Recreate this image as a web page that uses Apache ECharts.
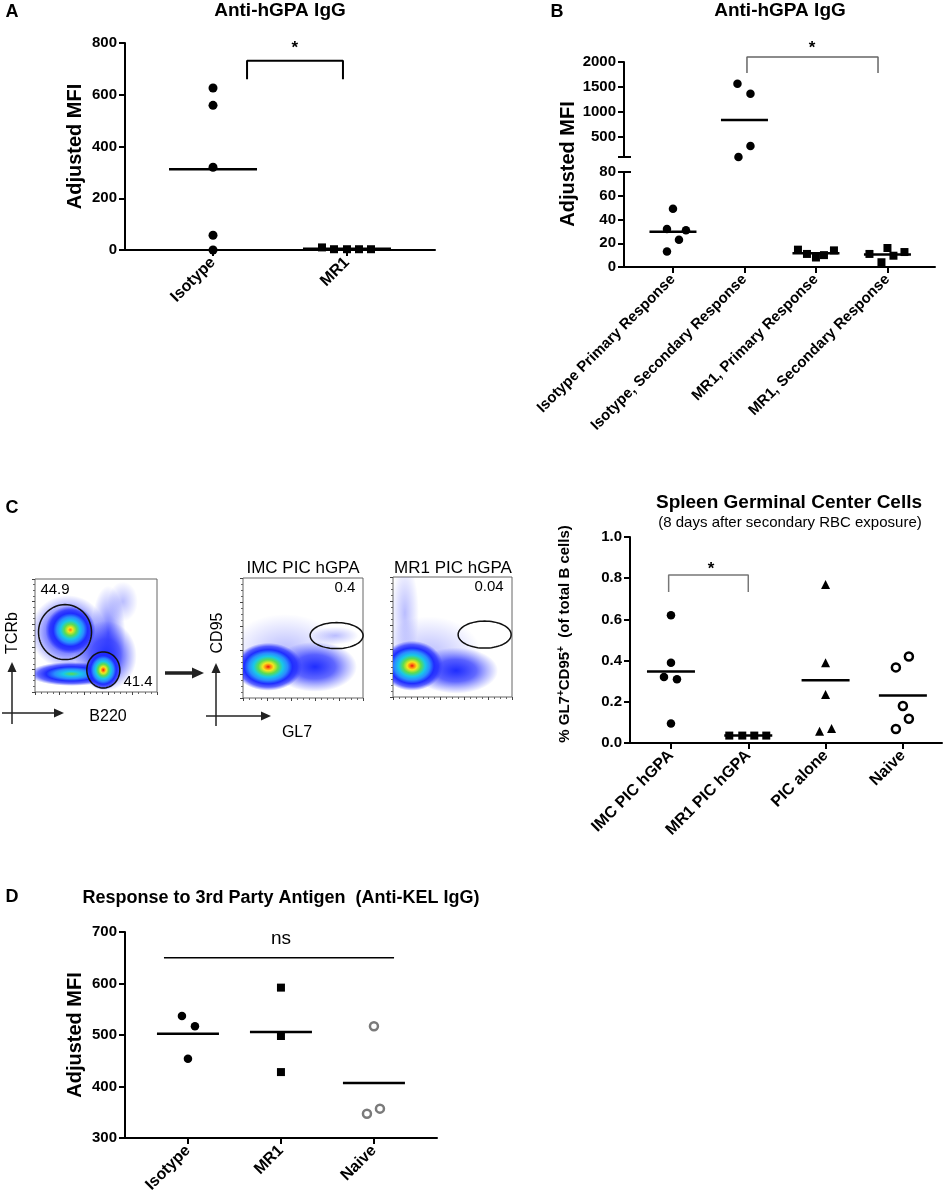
<!DOCTYPE html>
<html>
<head>
<meta charset="utf-8">
<script src="https://cdn.jsdelivr.net/npm/echarts@6/dist/echarts.min.js"></script>
<style>
  html, body { margin: 0; padding: 0; background: #fff; }
  #fig { width: 945px; height: 1198px; }
</style>
</head>
<body>
<div id="fig"></div>
<script>
// ---- panel A: anti-hGPA IgG ----
const catsA = ['Isotype', 'MR1'];
const isotypeA = [626, 559, 320, 57, 0];
const mr1A = [10, 3, 3, 3, 3];

// ---- panel B: primary / secondary response (broken axis) ----
const catsB = ['Isotype Primary Response', 'Isotype, Secondary Response', 'MR1, Primary Response', 'MR1, Secondary Response'];
const isoPrimaryB = [49, 32, 31, 23, 13];
const isoSecondaryB = [1567, 1367, 320, 100];
const mr1PrimaryB = [14.6, 11, 8, 10, 14];
const mr1SecondaryB = [11, 16, 9.5, 12.6, 4];
const upperTicksB = [500, 1000, 1500, 2000];

// ---- panel C: spleen germinal center cells ----
const catsC = ['IMC PIC hGPA', 'MR1 PIC hGPA', 'PIC alone', 'Naive'];
const imcC = [0.62, 0.39, 0.32, 0.31, 0.095];
const mr1C = [0.036, 0.036, 0.036, 0.036];
const picAloneC = [0.77, 0.39, 0.235, 0.057, 0.07];
const naiveC = [0.367, 0.42, 0.18, 0.118, 0.068];

// ---- panel D: 3rd party antigen ----
const catsD = ['Isotype', 'MR1', 'Naive'];
const isotypeD = [537, 517, 454];
const mr1D = [592, 498, 428];
const naiveD = [517, 347, 357];

// horizontal scatter spread of the points (px), as in the prism plot
const jitIsoA = [0, 0, 0, 0, 0];
const jitMr1A = [-25, -13, 0, 12, 24];
const jitB1 = [0, -6, 13, 6, -6];
const jitB2 = [-7, 6, 6, -6];
const jitB3 = [-18, -9, 0, 8, 18];
const jitB4 = [-18, 0, 6, 17, -6];
const jitC1 = [0, 0, -7, 6, 0];
const jitC2 = [-19, -6, 6, 18];
const jitC3 = [0, 0, 0, -6, 6];
const jitC4 = [-7, 6, 0, 6, -7];
const jitD1 = [-6, 7, 0];
const jitD2 = [0, 0, 0];
const jitD3 = [0, -7, 6];

// flow plots: populations [x, y, width, height, peak level] and gates [x, y, width, height]
const flowTcrB220 = [
  [27, 53, 76, 74, 6], [60, 52, 34, 95, 7], [58, 32, 62, 70, 6], [72, 80, 30, 40, 8],
  [30, 16, 86, 24, 3], [29, 55, 50, 48, 1], [56, 19.5, 36, 40, 0]
];
const gatesTcrB220 = [[24.6, 53, 53, 55], [56, 19.5, 33, 36]];
const flowImc = [
  [35, 40, 110, 72, 8], [60, 26, 84, 50, 6], [77, 52, 46, 18, 8], [21, 26, 68, 48, 0]
];
const gatesImc = [[78, 52, 53, 26]];
const flowMr1 = [
  [30, 36, 105, 75, 8], [10, 70, 28, 100, 8], [53, 22, 84, 46, 6], [16, 26, 62, 50, 0]
];
const gatesMr1 = [[77, 52, 53, 27]];

const FONT = '"Liberation Sans", Arial, Helvetica, sans-serif';
// pseudocolour density scale, hot centre -> sparse blue edge
const jetColors = ['#e8140c', '#ff7a10', '#f5e61e', '#5cdc50', '#18c8e8', '#2a8cff', '#1f2dff', 'rgba(30,40,255,0.7)', 'rgba(40,50,255,0.32)'];
const jetOffsets = [0, 0.07, 0.16, 0.29, 0.43, 0.57, 0.71, 0.85, 0.93];

function mean(a) { return a.reduce((s, v) => s + v, 0) / a.length; }

function jetFill(lvl) {
  const o0 = jetOffsets[lvl];
  const stops = [];
  for (let i = lvl; i < jetColors.length; i++) {
    stops.push({ offset: lvl === jetColors.length - 1 ? 0 : (jetOffsets[i] - o0) / (1 - o0), color: jetColors[i] });
  }
  stops.push({ offset: 1, color: 'rgba(40,50,255,0)' });
  return { type: 'radial', x: 0.5, y: 0.5, r: 0.5, colorStops: stops };
}

function xCats(grid, min, max, cats, size) {
  const ticks = cats.map((c, i) => i + 1);
  return {
    type: 'value', gridIndex: grid, min: min, max: max,
    axisLine: { show: true, onZero: false, lineStyle: { color: '#000', width: 2 } },
    axisTick: { show: true, length: 6, customValues: ticks, lineStyle: { color: '#000', width: 2 } },
    axisLabel: {
      customValues: ticks, rotate: 45, margin: 10, color: '#000',
      fontFamily: FONT, fontWeight: 'bold', fontSize: size,
      formatter: v => cats[Math.round(v) - 1]
    },
    splitLine: { show: false }
  };
}

function yVal(grid, min, max, interval, extra) {
  return Object.assign({
    type: 'value', gridIndex: grid, min: min, max: max, interval: interval,
    axisLine: { show: true, onZero: false, lineStyle: { color: '#000', width: 2 } },
    axisTick: { show: true, length: 6, lineStyle: { color: '#000', width: 2 } },
    axisLabel: { color: '#000', fontFamily: FONT, fontWeight: 'bold', fontSize: 15, margin: 8, formatter: v => String(v) },
    splitLine: { show: false }
  }, extra);
}

function flowAxis(grid) {
  return {
    type: 'value', gridIndex: grid, min: 0, max: 100, interval: 20,
    axisLine: { show: false },
    axisTick: { show: true, length: 3, lineStyle: { color: '#444', width: 1 } },
    minorTick: { show: true, splitNumber: 4, length: 2, lineStyle: { color: '#666' } },
    axisLabel: { show: false },
    splitLine: { show: false }
  };
}

function dots(xi, yi, cat, vals, jit, symbol, size, style) {
  return {
    type: 'scatter', xAxisIndex: xi, yAxisIndex: yi, symbol: symbol, symbolSize: size,
    clip: false, silent: true, itemStyle: Object.assign({ opacity: 1 }, style),
    data: vals.map((v, i) => ({ value: [cat, v], symbolOffset: [jit[i], 0] }))
  };
}

function meanBar(xi, yi, cat, vals, width) {
  return {
    type: 'scatter', xAxisIndex: xi, yAxisIndex: yi, symbol: 'rect', symbolSize: [width, 2.5],
    clip: false, silent: true, itemStyle: { color: '#000', opacity: 1 }, z: 3,
    data: [[cat, mean(vals)]]
  };
}

function bracket(xi, yi, x1, x2, top, bottom, color, width) {
  return {
    type: 'line', xAxisIndex: xi, yAxisIndex: yi, symbol: 'none', clip: false, silent: true,
    lineStyle: { color: color, width: width, opacity: 1 },
    data: [[x1, bottom], [x1, top], [x2, top], [x2, bottom]]
  };
}

function note(xi, yi, x, y, text, size, weight) {
  return {
    type: 'scatter', xAxisIndex: xi, yAxisIndex: yi, symbolSize: 1, clip: false, silent: true,
    itemStyle: { color: 'rgba(0,0,0,0)', opacity: 1 },
    label: { show: true, position: 'inside', formatter: text, color: '#000', opacity: 1, fontFamily: FONT, fontSize: size, fontWeight: weight },
    data: [[x, y]]
  };
}

function blobs(xi, yi, list) {
  return {
    type: 'custom', xAxisIndex: xi, yAxisIndex: yi, clip: true, silent: true, data: list,
    renderItem: (params, api) => {
      const p = api.coord([api.value(0), api.value(1)]);
      const w = api.value(2), h = api.value(3);
      return {
        type: 'circle', x: p[0], y: p[1], scaleX: w / h, scaleY: 1,
        shape: { cx: 0, cy: 0, r: h / 2 },
        style: { fill: jetFill(api.value(4)) }
      };
    }
  };
}

function gates(xi, yi, list) {
  return {
    type: 'custom', xAxisIndex: xi, yAxisIndex: yi, clip: false, silent: true, data: list,
    renderItem: (params, api) => {
      const p = api.coord([api.value(0), api.value(1)]);
      const rx = api.value(2) / 2, ry = api.value(3) / 2;
      const pts = [];
      for (let k = 0; k < 72; k++) {
        const a = k / 72 * Math.PI * 2;
        pts.push([p[0] + rx * Math.cos(a), p[1] + ry * Math.sin(a)]);
      }
      return { type: 'polygon', shape: { points: pts }, style: { fill: 'none', stroke: '#111', lineWidth: 1.5 } };
    }
  };
}

function txt(x, y, text, size, weight, extra) {
  return Object.assign({
    type: 'text', x: x, y: y, silent: true,
    style: { text: text, fontFamily: FONT, fontSize: size, fontWeight: weight || 'normal', fill: '#000', align: 'center', verticalAlign: 'middle' }
  }, extra || {});
}

function arrow(x1, y1, x2, y2, w, head) {
  const a = Math.atan2(y2 - y1, x2 - x1);
  const bx = x2 - head * Math.cos(a), by = y2 - head * Math.sin(a);
  const px = Math.sin(a) * head * 0.45, py = -Math.cos(a) * head * 0.45;
  return [
    { type: 'line', silent: true, shape: { x1: x1, y1: y1, x2: bx, y2: by }, style: { stroke: '#222', lineWidth: w } },
    { type: 'polygon', silent: true, shape: { points: [[x2, y2], [bx + px, by + py], [bx - px, by - py]] }, style: { fill: '#222' } }
  ];
}

const chart = echarts.init(document.getElementById('fig'), null, { renderer: 'canvas' });

const boxGrid = { show: true, borderColor: '#666', borderWidth: 1, backgroundColor: 'transparent', outerBoundsMode: 'none' };
const nameStyle = { fontFamily: FONT, fontWeight: 'bold', fontSize: 20, color: '#000' };

const option = {
  backgroundColor: '#fff',
  animation: false,
  grid: [
    { left: 125, top: 43, width: 310, height: 207, outerBoundsMode: 'none' },   // A
    { left: 624, top: 62, width: 311, height: 95, outerBoundsMode: 'none' },    // B upper
    { left: 624, top: 172, width: 311, height: 95, outerBoundsMode: 'none' },   // B lower
    { left: 630, top: 537, width: 312, height: 206, outerBoundsMode: 'none' },  // C
    { left: 125, top: 932, width: 312, height: 206, outerBoundsMode: 'none' },  // D
    Object.assign({ left: 35, top: 579, width: 122, height: 113 }, boxGrid),    // flow TCRb/B220
    Object.assign({ left: 243, top: 578, width: 120, height: 120 }, boxGrid),   // flow IMC
    Object.assign({ left: 393, top: 577, width: 119, height: 120 }, boxGrid)    // flow MR1
  ],
  xAxis: [
    xCats(0, 0.343, 2.657, catsA, 16),
    { type: 'value', gridIndex: 1, min: 0.315, max: 4.665, show: false },
    xCats(2, 0.315, 4.665, catsB, 15),
    xCats(3, 0.47, 4.506, catsC, 16),
    xCats(4, 0.323, 3.678, catsD, 16),
    flowAxis(5), flowAxis(6), flowAxis(7)
  ],
  yAxis: [
    yVal(0, 0, 800, 200, { name: 'Adjusted MFI', nameLocation: 'middle', nameGap: 40, nameTextStyle: nameStyle }),
    yVal(1, 100, 2000, null, {
      axisTick: { show: true, length: 6, customValues: [100].concat(upperTicksB), lineStyle: { color: '#000', width: 2 } },
      axisLabel: { customValues: upperTicksB, color: '#000', fontFamily: FONT, fontWeight: 'bold', fontSize: 15, margin: 8, formatter: v => String(v) }
    }),
    yVal(2, 0, 80, 20),
    yVal(3, 0, 1, 0.2, {
      axisLabel: { color: '#000', fontFamily: FONT, fontWeight: 'bold', fontSize: 15, margin: 8, formatter: v => v.toFixed(1) }
    }),
    yVal(4, 300, 700, 100, { name: 'Adjusted MFI', nameLocation: 'middle', nameGap: 40, nameTextStyle: nameStyle }),
    flowAxis(5), flowAxis(6), flowAxis(7),
    // axis-break marks of panel B
    { type: 'value', gridIndex: 1, min: 100, max: 2000, position: 'left', axisLine: { show: false }, axisLabel: { show: false }, splitLine: { show: false },
      axisTick: { show: true, inside: true, length: 7, customValues: [100], lineStyle: { color: '#000', width: 2 } } },
    { type: 'value', gridIndex: 2, min: 0, max: 80, position: 'left', axisLine: { show: false }, axisLabel: { show: false }, splitLine: { show: false },
      axisTick: { show: true, inside: true, length: 7, customValues: [80], lineStyle: { color: '#000', width: 2 } } }
  ],
  series: [
    // A
    dots(0, 0, 1, isotypeA, jitIsoA, 'circle', 9, { color: '#000' }),
    dots(0, 0, 2, mr1A, jitMr1A, 'rect', 8, { color: '#000' }),
    meanBar(0, 0, 1, isotypeA, 88),
    meanBar(0, 0, 2, mr1A, 88),
    bracket(0, 0, 1.254, 1.97, 731, 660, '#000', 2),
    note(0, 0, 1.61, 781, '*', 17, 'bold'),
    // B
    dots(2, 2, 1, isoPrimaryB, jitB1, 'circle', 8.5, { color: '#000' }),
    dots(1, 1, 2, isoSecondaryB, jitB2, 'circle', 8.5, { color: '#000' }),
    dots(2, 2, 3, mr1PrimaryB, jitB3, 'rect', 8, { color: '#000' }),
    dots(2, 2, 4, mr1SecondaryB, jitB4, 'rect', 8, { color: '#000' }),
    meanBar(2, 2, 1, isoPrimaryB, 47),
    meanBar(1, 1, 2, isoSecondaryB, 47),
    meanBar(2, 2, 3, mr1PrimaryB, 47),
    meanBar(2, 2, 4, mr1SecondaryB, 47),
    bracket(1, 1, 2.035, 3.868, 2100, 1780, '#666', 1.5),
    note(1, 1, 2.944, 2280, '*', 17, 'bold'),
    // C
    dots(3, 3, 1, imcC, jitC1, 'circle', 8.5, { color: '#000' }),
    dots(3, 3, 2, mr1C, jitC2, 'rect', 8, { color: '#000' }),
    dots(3, 3, 3, picAloneC, jitC3, 'triangle', 9, { color: '#000' }),
    dots(3, 3, 4, naiveC, jitC4, 'circle', 8, { color: '#fff', borderColor: '#000', borderWidth: 2.5 }),
    meanBar(3, 3, 1, imcC, 48),
    meanBar(3, 3, 2, mr1C, 48),
    meanBar(3, 3, 3, picAloneC, 48),
    meanBar(3, 3, 4, naiveC, 48),
    bracket(3, 3, 0.97, 2.0, 0.816, 0.733, '#777', 1.5),
    note(3, 3, 1.518, 0.845, '*', 17, 'bold'),
    // D
    dots(4, 4, 1, isotypeD, jitD1, 'circle', 8.5, { color: '#000' }),
    dots(4, 4, 2, mr1D, jitD2, 'rect', 8, { color: '#000' }),
    dots(4, 4, 3, naiveD, jitD3, 'circle', 8, { color: '#fff', borderColor: '#7a7a7a', borderWidth: 2.5 }),
    meanBar(4, 4, 1, isotypeD, 62),
    meanBar(4, 4, 2, mr1D, 62),
    meanBar(4, 4, 3, naiveD, 62),
    { type: 'line', xAxisIndex: 4, yAxisIndex: 4, symbol: 'none', clip: false, silent: true,
      lineStyle: { color: '#000', width: 1.5, opacity: 1 }, data: [[0.742, 650], [3.216, 650]] },
    note(4, 4, 2, 686, 'ns', 19, 'normal'),
    // flow cytometry plots
    blobs(5, 5, flowTcrB220), gates(5, 5, gatesTcrB220),
    blobs(6, 6, flowImc), gates(6, 6, gatesImc),
    blobs(7, 7, flowMr1), gates(7, 7, gatesMr1)
  ],
  graphic: [
    txt(12, 12, 'A', 18, 'bold'),
    txt(280, 11, 'Anti-hGPA IgG', 19, 'bold'),
    txt(557, 12, 'B', 18, 'bold'),
    txt(780, 11, 'Anti-hGPA IgG', 19, 'bold'),
    txt(568, 164, 'Adjusted MFI', 20, 'bold', { rotation: Math.PI / 2 }),
    txt(12, 508, 'C', 18, 'bold'),
    txt(789, 503, 'Spleen Germinal Center Cells', 19, 'bold'),
    txt(790, 523, '(8 days after secondary RBC exposure)', 15, 'normal'),
    {
      type: 'text', x: 565, y: 634, rotation: Math.PI / 2, silent: true,
      style: {
        text: '{a|% GL7}{s|+}{a|CD95}{s|+}{a|  (of total B cells)}',
        align: 'center', verticalAlign: 'middle', fill: '#000',
        rich: {
          a: { fontFamily: FONT, fontWeight: 'bold', fontSize: 15, fill: '#000' },
          s: { fontFamily: FONT, fontWeight: 'bold', fontSize: 10, fill: '#000', padding: [0, 0, 8, 0] }
        }
      }
    },
    txt(12, 897, 'D', 18, 'bold'),
    txt(281, 898, 'Response to 3rd Party Antigen  (Anti-KEL IgG)', 18, 'bold'),
    // flow annotations
    txt(55, 590, '44.9', 15),
    txt(138, 682, '41.4', 15),
    txt(303, 568, 'IMC PIC hGPA', 17),
    txt(453, 568, 'MR1 PIC hGPA', 17),
    txt(345, 588, '0.4', 15),
    txt(489, 587, '0.04', 15),
    txt(13, 633, 'TCRb', 16, 'normal', { rotation: Math.PI / 2 }),
    txt(108, 717, 'B220', 16),
    txt(218, 633, 'CD95', 16, 'normal', { rotation: Math.PI / 2 }),
    txt(297, 733, 'GL7', 16)
  ].concat(
    arrow(12, 724, 12, 662, 1.5, 10),
    arrow(2, 713, 64, 713, 1.5, 10),
    arrow(216, 726, 216, 663, 1.5, 10),
    arrow(206, 716, 271, 716, 1.5, 10),
    arrow(165, 673, 204, 673, 3.5, 12)
  )
};

chart.setOption(option);
</script>
</body>
</html>
